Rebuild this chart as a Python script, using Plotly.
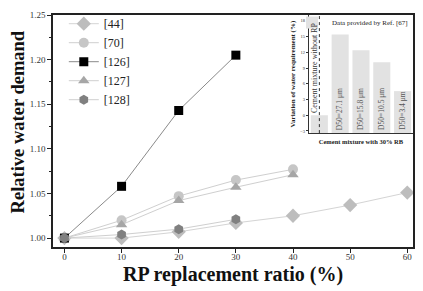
import plotly.graph_objects as go

# ---- main chart data ----
ratio_44 = [0, 10, 20, 30, 40, 50, 60]
wd_44 = [1.000, 1.000, 1.007, 1.017, 1.025, 1.037, 1.051]

ratio_70 = [0, 10, 20, 30, 40]
wd_70 = [1.000, 1.020, 1.047, 1.065, 1.077]

ratio_126 = [0, 10, 20, 30]
wd_126 = [1.000, 1.058, 1.143, 1.205]

ratio_127 = [0, 10, 20, 30, 40]
wd_127 = [1.000, 1.015, 1.042, 1.057, 1.071]

ratio_128 = [0, 10, 20, 30]
wd_128 = [1.000, 1.004, 1.010, 1.021]

# ---- inset data ----
inset_cats = ["Cement mixture without RP", "D50=27.1 μm", "D50=15.8 μm",
              "D50=10.5 μm", "D50=3.4 μm"]
inset_vals = [0.0, 15.4, 12.4, 10.1, 4.6]
inset_ticks = [-3, 0, 3, 6, 9, 12, 15, 18]

SERIF = "Liberation Serif"
inset_min, inset_max = -3.4, 19.1

fig = go.Figure()

series = [
    ("[44]", ratio_44, wd_44, "diamond", "#bdbdbd", "#d4d4d4", 11),
    ("[70]", ratio_70, wd_70, "circle", "#c6c6c6", "#cfcfcf", 10),
    ("[126]", ratio_126, wd_126, "square", "#000000", "#8a8a8a", 9),
    ("[127]", ratio_127, wd_127, "triangle-up", "#a6a6a6", "#cfcfcf", 10),
    ("[128]", ratio_128, wd_128, "hexagon", "#808080", "#cfcfcf", 10),
]
for name, xs, ys, sym, mcol, lcol, msize in series:
    fig.add_trace(go.Scatter(
        x=xs, y=ys, name=name, mode="lines+markers",
        line=dict(color=lcol, width=1),
        marker=dict(symbol=sym, size=msize, color=mcol, line=dict(width=0)),
        xaxis="x", yaxis="y", legend="legend",
    ))

fig.add_trace(go.Bar(
    x=inset_cats,
    y=[v - inset_min for v in inset_vals],
    base=inset_min,
    name="Data provided by Ref. [67]",
    marker=dict(color="#e2e2e2", line=dict(width=0)),
    width=0.82,
    xaxis="x2", yaxis="y2", legend="legend2",
))

# the page body adds an 8px offset, so margins are shifted to compensate
fig.update_layout(
    width=423, height=291,
    margin=dict(l=45, r=18, t=7, b=52, autoexpand=False),
    paper_bgcolor="white", plot_bgcolor="white",
    font=dict(family=SERIF, color="#222222"),
    barmode="overlay",
    xaxis=dict(
        domain=[0, 1], range=[-2, 61], automargin=False,
        tickvals=[0, 10, 20, 30, 40, 50, 60],
        ticks="outside", ticklen=4, tickwidth=1.2, tickcolor="#222",
        ticklabelstandoff=-4,
        showline=True, linecolor="#222", linewidth=1.6, mirror=True,
        showgrid=False, zeroline=False,
        tickfont=dict(family=SERIF, size=9, color="#333"),
    ),
    yaxis=dict(
        domain=[0, 1], range=[0.99, 1.25], automargin=False,
        tickvals=[1.00, 1.05, 1.10, 1.15, 1.20, 1.25],
        ticktext=["1.00", "1.05", "1.10", "1.15", "1.20", "1.25"],
        ticks="outside", ticklen=4, tickwidth=1.2, tickcolor="#222",
        minor=dict(dtick=0.025, tick0=1.0, ticks="outside", ticklen=2, tickcolor="#222"),
        showline=True, linecolor="#222", linewidth=1.6, mirror=True,
        showgrid=False, zeroline=False,
        tickfont=dict(family=SERIF, size=9, color="#333"),
    ),
    xaxis2=dict(
        domain=[0.711, 1.0], anchor="y2", automargin=False,
        range=[-0.5, 4.5], type="category",
        showticklabels=False, ticks="",
        showline=True, linecolor="#333", linewidth=1, mirror=False,
        showgrid=False, zeroline=False,
        title=dict(text="<b>Cement mixture with 30% RB</b>",
                   font=dict(family=SERIF, size=6.5, color="#222"), standoff=6),
    ),
    yaxis2=dict(
        domain=[0.491, 1.0], anchor="x2", automargin=False,
        range=[inset_min, inset_max],
        tickvals=inset_ticks,
        ticks="outside", ticklen=2, tickwidth=0.8, tickcolor="#333",
        showline=True, linecolor="#333", linewidth=1,
        showgrid=False, zeroline=False,
        tickfont=dict(family=SERIF, size=4.5, color="#333"),
        title=dict(text="<b>Variation of water requirement (%)</b>",
                   font=dict(family=SERIF, size=7, color="#222"), standoff=3),
    ),
    legend=dict(
        x=0.03, y=1.025, xanchor="left", yanchor="top",
        bgcolor="rgba(0,0,0,0)", font=dict(family=SERIF, size=12, color="#222"),
        tracegroupgap=0, itemwidth=30,
    ),
    legend2=dict(
        x=1.0, y=1.03, xanchor="right", yanchor="top",
        bgcolor="rgba(0,0,0,0)", font=dict(family=SERIF, size=7, color="#222"),
    ),
    showlegend=True,
)

# main axis titles
fig.add_annotation(xref="paper", yref="paper", x=0.5, y=0, yanchor="top", yshift=-14,
                   text="<b>RP replacement ratio (%)</b>", showarrow=False,
                   font=dict(family=SERIF, size=20, color="#111"))
fig.add_annotation(xref="paper", yref="paper", x=0, y=0.537, xanchor="right", xshift=-23,
                   text="<b>Relative water demand</b>", textangle=-90, showarrow=False,
                   font=dict(family=SERIF, size=18.5, color="#111"))

# bar labels inside the inset bars (all but the reference mixture)
for cat in inset_cats[1:]:
    fig.add_annotation(xref="x2", yref="y2", x=cat, y=inset_min,
                       text=cat, textangle=-90, showarrow=False,
                       xanchor="center", yanchor="bottom", yshift=1, xshift=-1,
                       font=dict(family=SERIF, size=7.5, color="#555555"))

# dotted separator through the reference bar
fig.add_shape(type="line", xref="x2", yref="y2 domain",
              x0=inset_cats[0], x1=inset_cats[0], y0=0, y1=1,
              line=dict(color="#333", width=1, dash="dot"))
fig.add_annotation(xref="x2", yref="y2", x=inset_cats[0], y=inset_vals[0],
                   text=inset_cats[0], textangle=-90,
                   showarrow=False, xanchor="center", yanchor="bottom", xshift=-5,
                   font=dict(family=SERIF, size=8, color="#333"))

fig.write_html("out.html")
